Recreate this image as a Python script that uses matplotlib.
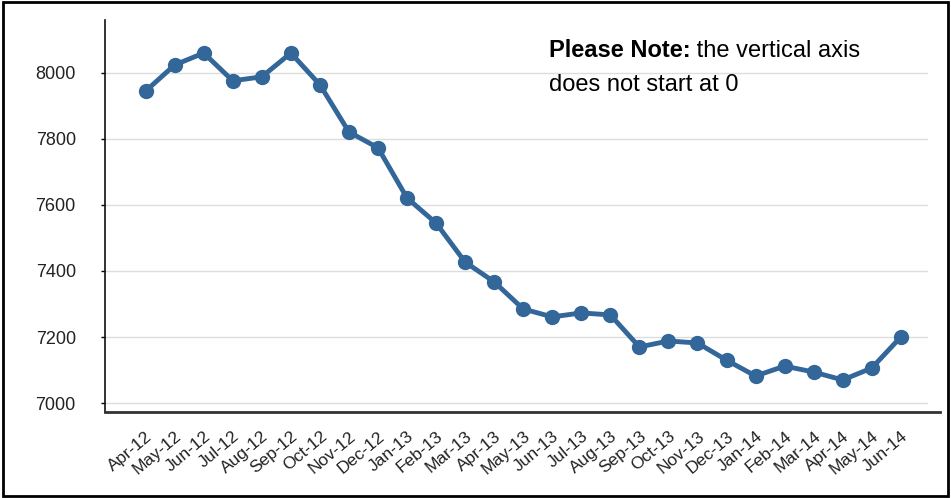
import matplotlib.pyplot as plt
from matplotlib.patches import Rectangle

months = ['Apr-12', 'May-12', 'Jun-12', 'Jul-12', 'Aug-12', 'Sep-12', 'Oct-12',
          'Nov-12', 'Dec-12', 'Jan-13', 'Feb-13', 'Mar-13', 'Apr-13', 'May-13',
          'Jun-13', 'Jul-13', 'Aug-13', 'Sep-13', 'Oct-13', 'Nov-13', 'Dec-13',
          'Jan-14', 'Feb-14', 'Mar-14', 'Apr-14', 'May-14', 'Jun-14']
values = [7945, 8024, 8060, 7976, 7988, 8060, 7964, 7821, 7773, 7621, 7545,
          7427, 7367, 7285, 7261, 7273, 7267, 7170, 7188, 7182, 7130, 7082,
          7112, 7094, 7070, 7106, 7200]
y_ticks = [7000, 7200, 7400, 7600, 7800, 8000]

plt.rcParams['font.family'] = ['Liberation Sans', 'DejaVu Sans']

fig = plt.figure(figsize=(9.51, 4.98), dpi=100)
ax = fig.add_axes([0.1104, 0.1727, 0.878, 0.7871])

x = list(range(len(months)))
ax.plot(x, values, color='#336699', lw=3.5, marker='o', markersize=10, zorder=3)

ax.set_xlim(-1.4, 27.35)
ax.set_ylim(6973, 8160)
ax.set_yticks(y_ticks)
ax.set_yticklabels([str(v) for v in y_ticks], fontsize=13, color='#222222')
ax.set_xticks(x)
ax.set_xticklabels(months, rotation=40, ha='right', rotation_mode='anchor',
                   fontsize=12.5, color='#222222')
ax.tick_params(axis='x', length=0, pad=12)
ax.tick_params(axis='y', length=3, width=1, direction='out', pad=18)

for v in y_ticks:
    ax.plot([-1.4, 26.9], [v, v], color='#dddddd', lw=1, zorder=1)

for s in ['top', 'right']:
    ax.spines[s].set_visible(False)
ax.spines['left'].set_color('#111111')
ax.spines['left'].set_linewidth(1.2)
ax.spines['bottom'].set_color('#333333')
ax.spines['bottom'].set_linewidth(2)

# note in the upper right
t1 = fig.text(0.577, 0.8855, 'Please Note:', fontsize=17, fontweight='bold',
              va='baseline', ha='left')
ax.annotate(' the vertical axis', xy=(1, 0), xycoords=t1, fontsize=17,
            va='bottom', ha='left')
fig.text(0.577, 0.817, 'does not start at 0', fontsize=17, va='baseline', ha='left')

fig.patches.append(Rectangle((0.003, 0.005), 0.994, 0.99, transform=fig.transFigure,
                             fill=False, edgecolor='black', lw=2))

fig.savefig('out.png', dpi=100)
